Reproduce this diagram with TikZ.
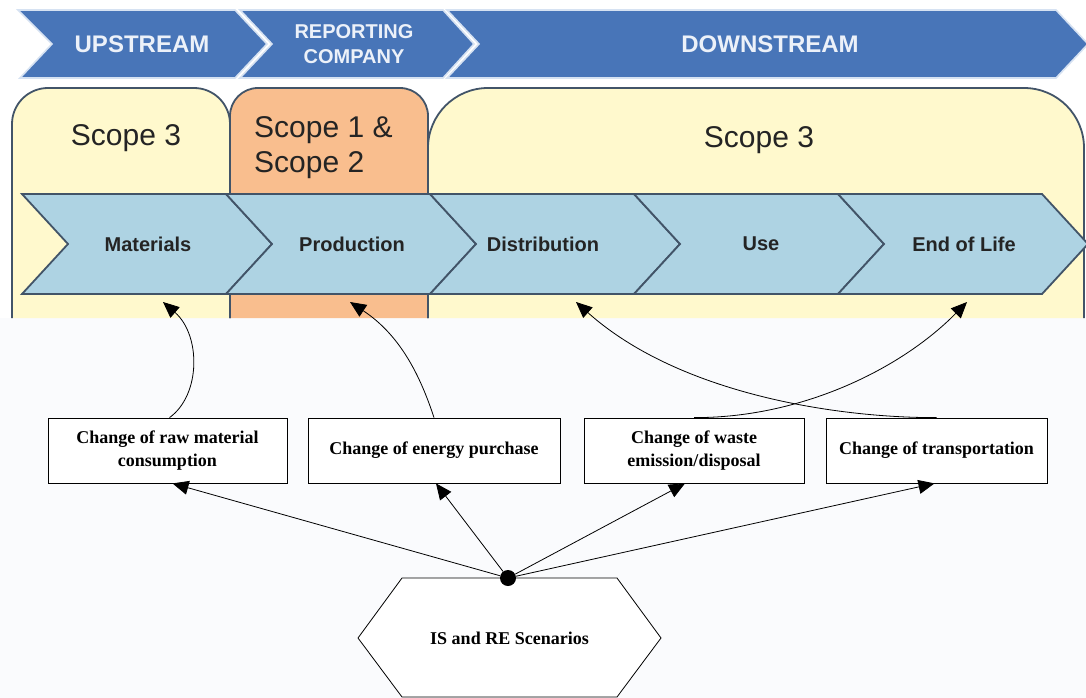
\documentclass[tikz,border=0pt]{standalone}
\usepackage{fontspec}
\setmainfont{Liberation Serif}
\setsansfont{Liberation Sans}
\usetikzlibrary{arrows.meta}
\definecolor{bandblue}{RGB}{72,117,184}
\definecolor{bandedge}{RGB}{214,226,242}
\definecolor{bandtxt}{RGB}{236,241,249}
\definecolor{stepblue}{RGB}{174,211,227}
\definecolor{darkedge}{RGB}{66,84,104}
\definecolor{scopeyellow}{RGB}{255,249,205}
\definecolor{scopeorange}{RGB}{249,190,142}
\definecolor{darktxt}{RGB}{36,36,36}
\definecolor{lowbg}{RGB}{250,251,253}
\begin{document}
\begin{tikzpicture}[x=1pt,y=-1pt,
  band/.style={fill=bandblue,draw=bandedge,line width=1.6pt},
  bandtext/.style={font=\sffamily\bfseries\fontsize{24}{28}\selectfont,text=bandtxt,inner sep=0pt},
  panel/.style={draw=darkedge,line width=1.8pt},
  scopetext/.style={font=\sffamily\fontsize{30}{35}\selectfont,text=darktxt,inner sep=0pt},
  stepbox/.style={fill=stepblue,draw=darkedge,line width=1.8pt},
  steptext/.style={font=\sffamily\bfseries\fontsize{20}{24}\selectfont,text=darktxt,inner sep=0pt},
  change/.style={draw,line width=0.8pt,fill=white,minimum height=65pt,align=center,
    font=\bfseries\fontsize{18}{23}\selectfont,inner sep=2pt},
  link/.style={line width=0.8pt,-{Triangle[length=16pt,width=14pt]}},
]
\useasboundingbox (0,0) rectangle (1086,698);
\fill[white] (0,0) rectangle (1086,318);
\fill[lowbg] (0,318) rectangle (1086,698);

\path[band] (18,10) -- (235,10) -- (267,44) -- (235,78) -- (20,78) -- (52,44) -- cycle;
\path[band] (240,10) -- (443,10) -- (474,44) -- (443,78) -- (240,78) -- (272,44) -- cycle;
\path[band] (447,10) -- (1056,10) -- (1088,44) -- (1056,78) -- (447,78) -- (479,44) -- cycle;
\node[bandtext] (up) at (142,44) {UPSTREAM};
\node[bandtext,align=center,font=\sffamily\bfseries\fontsize{20}{25}\selectfont] (rep) at (354,44) {REPORTING\\COMPANY};
\node[bandtext] (down) at (770,44) {DOWNSTREAM};

\path[panel,fill=scopeyellow] (12,318) [rounded corners=36pt]-- (12,88) -- (230,88) [sharp corners]-- (230,318);
\path[panel,fill=scopeorange] (230,318) [rounded corners=28pt]-- (230,88) -- (428,88) [sharp corners]-- (428,318);
\path[panel,fill=scopeyellow] (428,318) [rounded corners=60pt]-- (428,88) -- (1084,88) [sharp corners]-- (1084,318);
\node[scopetext] (s3l) at (126,138) {Scope 3};
\node[scopetext,align=left,anchor=west] (s12) at (254,148) {Scope 1 \&\\Scope 2};
\node[scopetext] (s3r) at (759,140) {Scope 3};

\foreach \i in {0,...,4}
  \path[stepbox] ({22+204*\i},194) -- ({226+204*\i},194) -- ({272+204*\i},244)
    -- ({226+204*\i},294) -- ({22+204*\i},294) -- ({68+204*\i},244) -- cycle;
\foreach \x/\name/\txt in {148/mat/Materials,352/prod/Production,543/dist/Distribution,761/use/Use,964/eol/End of Life}
  \node[steptext] (\name) at (\x,244) {\txt};
\coordinate (mat-in) at (163,302);
\coordinate (prod-in) at (350,302);
\coordinate (dist-in) at (576,302);
\coordinate (eol-in) at (967,302);

\node[change,minimum width=239pt] (raw) at (167.5,450.5) {Change of raw material\\consumption};
\node[change,minimum width=252pt] (energy) at (434,450.5) {Change of energy purchase};
\node[change,minimum width=220pt] (waste) at (694,450.5) {Change of waste\\emission/disposal};
\node[change,minimum width=221pt] (transp) at (936.5,450.5) {Change of transportation};

\draw[line width=0.8pt,fill=white] (358,638) -- (402,578) -- (617,578) -- (661,638) -- (617,697) -- (402,697) -- cycle;
\node[font=\bfseries\fontsize{18}{23}\selectfont,inner sep=0pt] (scen) at (509.5,638) {IS and RE Scenarios};
\node[circle,fill=black,inner sep=0pt,minimum size=16pt] (hub) at (508,578) {};

\draw[link] (hub) -- ([xshift=5pt]raw.south);
\draw[link] (hub) -- ([xshift=2pt]energy.south);
\draw[link] (hub) -- ([xshift=-9pt]waste.south);
\draw[link] (hub) -- ([xshift=-2pt]transp.south);

\draw[link] ([xshift=2pt]raw.north) .. controls (201,395) and (201,335) .. (mat-in);
\draw[link] (energy.north) .. controls (420,375) and (400,335) .. (prod-in);
\draw[link] (waste.north) .. controls (800,418) and (900,370) .. (eol-in);
\draw[link] (transp.north) .. controls (840,418) and (680,395) .. (dist-in);
\end{tikzpicture}
\end{document}
